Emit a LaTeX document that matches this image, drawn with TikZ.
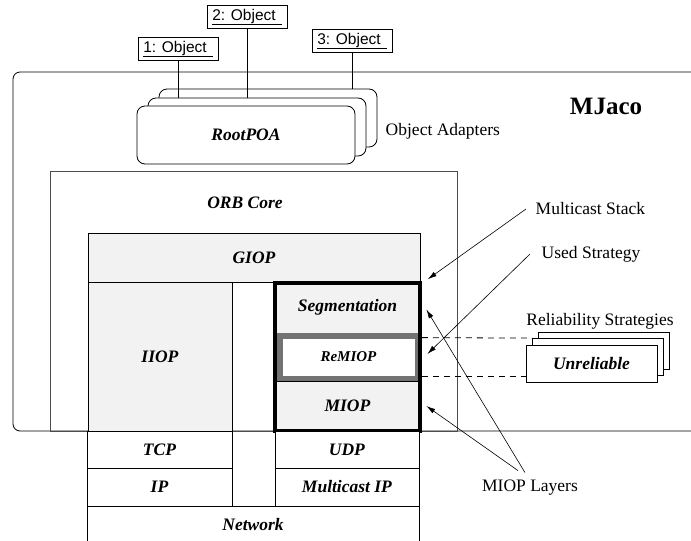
\documentclass[tikz,border=0pt]{standalone}
\usepackage{fontspec}
\setmainfont{Liberation Serif}
\newfontfamily\objfont{Liberation Sans}
\usepackage{tikz}
\usetikzlibrary{arrows.meta}

\begin{document}
\begin{tikzpicture}[x=1pt,y=-1pt,line width=0.8pt,
    font=\fontsize{17.5}{20}\selectfont,
    layer/.style={shape=rectangle,draw=black,fill=gray!10,inner sep=0pt},
    plain/.style={shape=rectangle,draw=black,fill=white,inner sep=0pt},
    poa/.style={shape=rectangle,draw=black,fill=white,rounded corners=8pt,inner sep=0pt,minimum width=218pt,minimum height=58pt},
    obj/.style={shape=rectangle,draw=black,fill=white,inner sep=0pt,minimum width=80pt,minimum height=23pt,font=\objfont\fontsize{15.5}{18}\selectfont},
    strat/.style={plain,minimum width=131pt,minimum height=37pt},
    pointer/.style={-{Latex[length=9pt,width=5pt]},line width=0.6pt}]
        \useasboundingbox (0,0) rectangle (691,541);

        %the MJaco process
        \draw[rounded corners=7pt] (695,72) -- (13,72) -- (13,431) -- (695,431);
        \node (mjaco) at (606,106) {\fontsize{25}{28}\selectfont\textbf{MJaco}};

        %ORB core and protocol layers
        \node[shape=rectangle,draw=black!70,inner sep=0pt,minimum width=407pt,minimum height=260pt] (orb) at (253.5,301) {};
        \node (orbl) at (245,203) {\textbf{\textit{ORB Core}}};
        \node[layer,minimum width=332pt,minimum height=49pt] (giop) at (254,257.5) {\textbf{\textit{GIOP}}};
        \node[layer,minimum width=144pt,minimum height=149pt] (iiop) at (160,356.5) {\textbf{\textit{IIOP}}};
        \node[layer,minimum width=145pt,minimum height=51pt] (seg) at (347.5,307.5) {\textbf{\textit{Segmentation}}};
        \node[shape=rectangle,fill=black!55,inner sep=0pt,minimum width=145pt,minimum height=48pt] (remband) at (347.5,357) {};
        \node[plain,draw=black!55,minimum width=133pt,minimum height=38pt] (remiop) at (348.5,357) {\fontsize{15}{18}\selectfont\textbf{\textit{ReMIOP}}};
        \node[layer,minimum width=145pt,minimum height=50pt] (miop) at (347.5,406) {\textbf{\textit{MIOP}}};
        \node[shape=rectangle,draw=black,line width=3.5pt,inner sep=0pt,minimum width=145pt,minimum height=148pt] (mstack) at (347.5,357) {};

        \node[plain,minimum width=145pt,minimum height=37pt] (tcp) at (159.5,449.5) {\textbf{\textit{TCP}}};
        \node[plain,minimum width=145pt,minimum height=38pt] (ip) at (159.5,487) {\textbf{\textit{IP}}};
        \node[plain,minimum width=144pt,minimum height=37pt] (udp) at (347,449.5) {\textbf{\textit{UDP}}};
        \node[plain,minimum width=144pt,minimum height=38pt] (mip) at (347,487) {\textbf{\textit{Multicast IP}}};
        \node[plain,minimum width=332pt,minimum height=38pt] (net) at (253,525) {\textbf{\textit{Network}}};

        %object adapters
        \node[poa] (poa3) at (268,118) {};
        \node[poa] (poa2) at (257,127) {};
        \node[poa] (poa1) at (246,135) {\textbf{\textit{RootPOA}}};
        \node[anchor=west] (oa) at (382,131) {Object Adapters};

        \node[obj] (obj1) at (178,49) {\underline{1: Object\kern6pt}};
        \node[obj] (obj2) at (247,17) {\underline{2: Object\kern6pt}};
        \node[obj] (obj3) at (352,41) {\underline{3: Object\kern6pt}};
        \path[-] (obj1.south) edge (obj1.south |- poa2.north);
        \path[-] (obj2.south) edge (obj2.south |- poa2.north);
        \path[-] (obj3.south) edge (obj3.south |- poa3.north);

        %reliability strategies
        \node[strat] (u3) at (604,350.5) {};
        \node[strat] (u2) at (598,357) {};
        \node[strat] (u1) at (591.5,363.5) {\textbf{\textit{Unreliable}}};
        \node (rs) at (600,321) {Reliability Strategies};
        \path[-, dash pattern=on 6pt off 5pt] (mstack.east |- remiop.north) edge (u2.north west);
        \path[-, dash pattern=on 6pt off 5pt] (mstack.east |- remiop.south) edge (remiop.south -| u1.west);

        %annotations
        \node[anchor=west] (mcs) at (532,209) {Multicast Stack};
        \node[anchor=west] (us) at (538,254) {Used Strategy};
        \node (ml) at (530,488) {MIOP Layers};
        \path[pointer] ([xshift=-6pt]mcs.west) edge ([shift={(6,-2)}]mstack.north east);
        \path[pointer] ([xshift=-8pt]us.west) edge ([shift={(7,-3)}]remband.east);
        \path[pointer] ([shift={(-12,-6)}]ml.north) edge ([xshift=6pt]miop.east);
        \path[pointer] ([shift={(-5,-4)}]ml.north) edge ([shift={(6,2)}]seg.east);
\end{tikzpicture}
\end{document}
